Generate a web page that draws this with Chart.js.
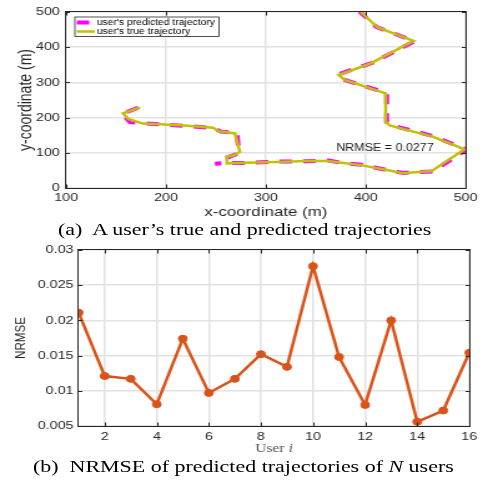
<!DOCTYPE html>
<html>
<head>
<meta charset="utf-8">
<script src="https://cdn.jsdelivr.net/npm/chart.js@4.4.1/dist/chart.umd.min.js"></script>
<style>
  html, body { margin: 0; padding: 0; background: #fff; overflow: hidden; }
  #page {
    position: absolute; left: 0; top: 0; width: 387px; height: 482px;
    transform: scaleX(1.2481); transform-origin: 0 0;
  }
  canvas { position: absolute; left: 0; }
  .cap {
    position: absolute; white-space: nowrap; color: #000;
    font-family: "Liberation Serif", "Times New Roman", serif;
    font-size: 17.6px; line-height: 20px;
  }
</style>
</head>
<body>
<div id="page">
  <canvas id="traj" width="387" height="222" style="top:0"></canvas>
  <div class="cap" style="top:219px;left:46.5px">(a)&nbsp; A user’s true and predicted trajectories</div>
  <canvas id="err" width="387" height="218" style="top:238px"></canvas>
  <div class="cap" style="top:456px;left:26.4px">(b)&nbsp; NRMSE of predicted trajectories of <i>N</i> users</div>
</div>
<script>
// (a) trajectory, metres
const trueX = [174, 157, 162, 177, 215, 247, 253, 269, 274, 268, 261, 261, 280, 310, 340, 362, 376, 395, 420, 437, 466, 499, 467, 424, 420, 420, 413, 379, 373, 405, 448, 412, 395];
const trueY = [229, 212, 196, 183, 178, 171, 161, 155, 103, 93, 89, 70, 72, 74, 77, 77, 72, 65, 52, 42, 48, 110, 146, 178, 188, 269, 275, 307, 321, 354, 418, 456, 500];
const predX = [172, 156, 164, 178, 216, 248, 255, 271, 273, 269, 262, 262, 249, 263, 281, 311, 341, 363, 377, 396, 421, 438, 467, 501, 468, 425, 421, 421, 414, 378, 372, 406, 449, 411, 394];
const predY = [228, 211, 187, 184, 177, 170, 160, 156, 104, 94, 88, 71, 69, 71, 71, 75, 76, 78, 71, 66, 51, 43, 47, 109, 147, 179, 187, 270, 276, 308, 322, 355, 417, 457, 501];
const xTicksTraj = [100, 200, 300, 400, 500];
const yTicksTraj = [0, 100, 200, 300, 400, 500];
const nrmseNote = 'NRMSE = 0.0277';

// (b) NRMSE per user
const users = [1, 2, 3, 4, 5, 6, 7, 8, 9, 10, 11, 12, 13, 14, 15, 16];
const nrmse = [0.0211, 0.0121, 0.0117, 0.0081, 0.0174, 0.0097, 0.0117, 0.0152, 0.0134, 0.0277, 0.0148, 0.0080, 0.0200, 0.0056, 0.0072, 0.0154];
const userTicks = [2, 4, 6, 8, 10, 12, 14, 16];
const nrmseTicks = [0.005, 0.01, 0.015, 0.02, 0.025, 0.03];
const nrmseTickLabels = ['0.005', '0.01', '0.015', '0.02', '0.025', '0.03'];

Chart.defaults.font.family = '"Liberation Sans", Arial, Helvetica, sans-serif';
Chart.defaults.color = '#262626';

const INK = '#262626';
const GRID = '#e2e2e2';

const toPoints = (xs, ys) => xs.map((x, i) => ({ x, y: ys[i] }));

// matlab style box with inward ticks on all four sides
const boxPlugin = {
  id: 'box',
  afterDraw(chart) {
    const { ctx, chartArea: a, scales } = chart;
    ctx.save();
    ctx.strokeStyle = INK;
    ctx.lineWidth = 1;
    ctx.strokeRect(a.left - 0.5, a.top - 0.5, a.right - a.left + 1, a.bottom - a.top + 1);
    ctx.beginPath();
    scales.x.ticks.forEach(t => {
      const px = Math.round(scales.x.getPixelForValue(t.value)) + 0.5;
      ctx.moveTo(px, a.bottom); ctx.lineTo(px, a.bottom - 3.5);
      ctx.moveTo(px, a.top); ctx.lineTo(px, a.top + 3.5);
    });
    scales.y.ticks.forEach(t => {
      const py = Math.round(scales.y.getPixelForValue(t.value)) + 0.5;
      ctx.moveTo(a.left, py); ctx.lineTo(a.left + 3, py);
      ctx.moveTo(a.right, py); ctx.lineTo(a.right - 3, py);
    });
    ctx.stroke();
    ctx.restore();
  }
};

// legend box inside the upper left corner
const insideLegend = {
  id: 'insideLegend',
  afterDraw(chart) {
    const { ctx, chartArea: a } = chart;
    const x0 = a.left + 7, y0 = a.top + 5;
    ctx.save();
    ctx.fillStyle = '#fff';
    ctx.fillRect(x0, y0, 115.5, 19.5);
    ctx.strokeStyle = INK;
    ctx.lineWidth = 0.8;
    ctx.strokeRect(x0, y0, 115.5, 19.5);
    ctx.font = '8.3px "Liberation Sans", Arial, sans-serif';
    ctx.textBaseline = 'middle';
    chart.data.datasets.forEach((ds, i) => {
      const yy = y0 + 5.5 + i * 9;
      ctx.strokeStyle = ds.borderColor;
      ctx.lineWidth = ds.borderWidth;
      ctx.setLineDash(ds.borderDash || []);
      ctx.beginPath();
      ctx.moveTo(x0 + 1.5, yy);
      ctx.lineTo(x0 + 16, yy);
      ctx.stroke();
      ctx.setLineDash([]);
      ctx.fillStyle = '#000';
      ctx.fillText(ds.label, x0 + 17.5, yy + 0.5);
    });
    ctx.restore();
  }
};

const notePlugin = {
  id: 'note',
  afterDraw(chart) {
    const { ctx, scales } = chart;
    ctx.save();
    ctx.font = '10px "Liberation Sans", Arial, sans-serif';
    ctx.fillStyle = '#1a1a1a';
    ctx.textBaseline = 'middle';
    ctx.fillText(nrmseNote, scales.x.getPixelForValue(370.5), scales.y.getPixelForValue(113));
    ctx.restore();
  }
};

// "User i" with italic i
const userLabel = {
  id: 'userLabel',
  afterDraw(chart) {
    const { ctx, chartArea: a } = chart;
    ctx.save();
    ctx.fillStyle = '#555';
    ctx.textBaseline = 'middle';
    const f1 = '12.5px "Liberation Serif", "Times New Roman", serif';
    const f2 = 'italic 12.5px "Liberation Serif", "Times New Roman", serif';
    ctx.font = f1;
    const w1 = ctx.measureText('User ').width;
    ctx.font = f2;
    const w2 = ctx.measureText('i').width;
    const x = (a.left + a.right) / 2 - (w1 + w2) / 2;
    ctx.font = f1;
    ctx.fillText('User ', x, 211);
    ctx.font = f2;
    ctx.fillText('i', x + w1, 211);
    ctx.restore();
  }
};

const fixedTicks = (values) => (scale) => {
  scale.ticks = values.map(v => ({ value: v }));
};

new Chart(document.getElementById('traj'), {
  type: 'scatter',
  data: {
    datasets: [{
      label: "user's predicted trajectory",
      data: toPoints(predX, predY),
      showLine: true,
      borderColor: '#ff00ff',
      borderWidth: 4,
      borderDash: [10, 9],
      pointRadius: 0,
      order: 1
    }, {
      label: "user's true trajectory",
      data: toPoints(trueX, trueY),
      showLine: true,
      borderColor: '#c2c000',
      borderWidth: 2.5,
      pointRadius: 0,
      order: 0
    }]
  },
  options: {
    responsive: false,
    animation: false,
    devicePixelRatio: 1,
    layout: { padding: { top: 12, right: 14, left: 0, bottom: 0 } },
    plugins: { legend: { display: false }, tooltip: { enabled: false } },
    scales: {
      x: {
        type: 'linear', min: 100, max: 500,
        afterBuildTicks: fixedTicks(xTicksTraj),
        afterFit: (s) => { s.height = 34; },
        grid: { color: GRID, lineWidth: 1.5, drawTicks: false },
        border: { display: false },
        ticks: { font: { size: 11.5 }, padding: 3, maxRotation: 0 },
        title: { display: true, text: 'x-coordinate (m)', font: { size: 13.5 }, padding: { top: 0, bottom: 2 } }
      },
      y: {
        type: 'linear', min: 0, max: 500,
        afterBuildTicks: fixedTicks(yTicksTraj),
        afterFit: (s) => { s.width = 53; },
        grid: { color: GRID, lineWidth: 1.5, drawTicks: false },
        border: { display: false },
        ticks: { font: { size: 11.5 }, padding: 5 },
        title: { display: true, text: 'y-coordinate (m)', font: { size: 14 }, padding: { top: 13, bottom: 0 } }
      }
    }
  },
  plugins: [boxPlugin, insideLegend, notePlugin]
});

new Chart(document.getElementById('err'), {
  type: 'scatter',
  data: {
    datasets: [{
      label: 'NRMSE',
      data: toPoints(users, nrmse),
      showLine: true,
      borderColor: '#d95319',
      backgroundColor: '#d95319',
      borderWidth: 2.5,
      pointRadius: 3.5,
      pointBorderWidth: 1,
      pointBorderColor: '#d95319',
      pointBackgroundColor: '#d95319'
    }]
  },
  options: {
    responsive: false,
    animation: false,
    devicePixelRatio: 1,
    layout: { padding: { top: 12, right: 11, left: 0, bottom: 0 } },
    plugins: { legend: { display: false }, tooltip: { enabled: false } },
    scales: {
      x: {
        type: 'linear', min: 1, max: 16,
        afterBuildTicks: fixedTicks(userTicks),
        afterFit: (s) => { s.height = 30; },
        grid: { color: GRID, lineWidth: 1.5, drawTicks: false },
        border: { display: false },
        ticks: { font: { size: 11.5 }, padding: 4, maxRotation: 0 }
      },
      y: {
        type: 'linear', min: 0.005, max: 0.03,
        afterBuildTicks: fixedTicks(nrmseTicks),
        afterFit: (s) => { s.width = 63; },
        grid: { color: GRID, lineWidth: 1.5, drawTicks: false },
        border: { display: false },
        ticks: { font: { size: 11.5 }, padding: 4, callback: (v, i) => nrmseTickLabels[i] },
        title: { display: true, text: 'NRMSE', font: { size: 11.6 }, padding: { top: 10, bottom: 0 } }
      }
    }
  },
  plugins: [boxPlugin, userLabel]
});
</script>
</body>
</html>
